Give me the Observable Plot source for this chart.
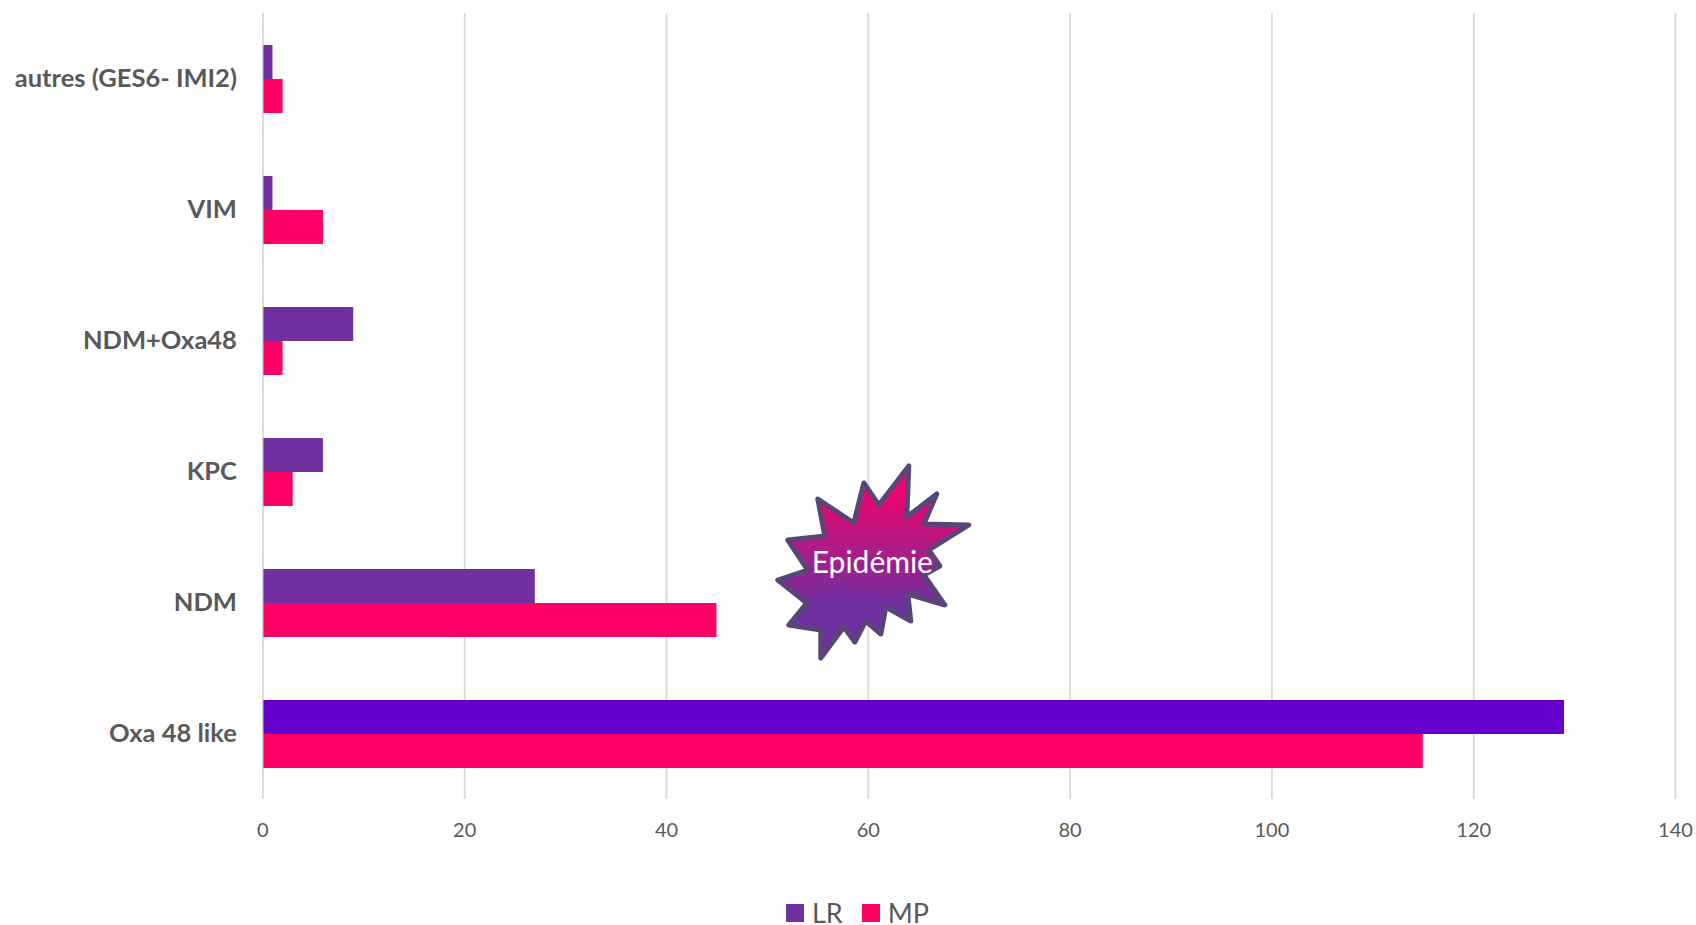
<!DOCTYPE html>
<html>
<head>
<meta charset="utf-8">
<script src="https://cdn.jsdelivr.net/npm/d3@7"></script>
<script src="https://cdn.jsdelivr.net/npm/@observablehq/plot@0.6"></script>
<style>
  html, body { margin: 0; padding: 0; background: #fff; overflow: hidden; }
  svg { display: block; }
  #legend { display: flex; align-items: center; height: 25px; padding-left: 786px; font: 27px Lato, sans-serif; color: #595959; }
  #legend i { display: block; width: 18px; height: 18px; margin-right: 8px; }
  #legend span { margin-right: 19px; line-height: 25px; }
</style>
</head>
<body>
<div id="chart"></div>
<script>
const categories = ["autres (GES6- IMI2)", "VIM", "NDM+Oxa48", "KPC", "NDM", "Oxa 48 like"];
const seriesNames = ["LR", "MP"];
const lrValues = [1, 1, 9, 6, 27, 129];
const mpValues = [2, 6, 2, 3, 45, 115];
const xTicks = [0, 20, 40, 60, 80, 100, 120, 140];
const seriesColors = ["#7030a0", "#ff0066"];
const highlightColor = "#6600cc";
const highlightCategory = "Oxa 48 like";
const annotationText = "Epidémie";
const annotationX = 60;
const annotationCategory = "NDM";
// starburst outline, offsets in px around its centre (decorative callout)
const burst = [[41,-97],[39,-46],[69,-69],[56,-39],[101,-38],[61,-13],[72,3],[56,12],[77,42],[40,31],[43,58],[18,44],[13,71],[-2,58],[-13,79],[-24,64],[-47,95],[-47,67],[-79,62],[-61,40],[-90,17],[-60,7],[-80,-23],[-43,-27],[-50,-64],[-14,-40],[-4,-80],[11,-58]];

const rows = categories.flatMap((category, i) => [
  {category, series: seriesNames[0], value: lrValues[i]},
  {category, series: seriesNames[1], value: mpValues[i]}
]);

function renderBurst(index, scales, values, dimensions, context, next) {
  const label = next(index, scales, values, dimensions, context);
  if (!index.length) return label;
  const cx = scales.x(annotationX), cy = scales.y(seriesNames[1]) - 40;
  const g = d3.create("svg:g");
  const grad = g.append("defs").append("linearGradient")
    .attr("id", "burstFill").attr("x1", 0).attr("y1", 0).attr("x2", 0).attr("y2", 1);
  grad.append("stop").attr("offset", "5%").attr("stop-color", "#ff0066");
  grad.append("stop").attr("offset", "72%").attr("stop-color", "#7030a0");
  grad.append("stop").attr("offset", "100%").attr("stop-color", "#7030a0");
  g.append("polygon")
    .attr("points", burst.map(([dx, dy]) => `${cx + dx},${cy + dy}`).join(" "))
    .attr("fill", "url(#burstFill)")
    .attr("stroke", "#5a4578")
    .attr("stroke-width", 5)
    .attr("stroke-linejoin", "round");
  g.node().append(label);
  return g.node();
}

const chart = Plot.plot({
  width: 1696,
  height: 900,
  marginLeft: 262.4,
  marginRight: 21,
  marginTop: 12,
  marginBottom: 100,
  style: {fontFamily: "Lato, sans-serif", color: "#595959", background: "#fff"},
  x: {domain: [0, 140], ticks: xTicks, label: null},
  y: {domain: seriesNames, paddingInner: 0, paddingOuter: 0.9, axis: null, label: null},
  fy: {domain: categories, padding: 0, label: null},
  marks: [
    Plot.ruleX(xTicks, {x: d => d, stroke: "#d9d9d9", strokeWidth: 1.8}),
    Plot.barX(rows, {
      x: "value",
      y: "series",
      fy: "category",
      insetLeft: 1,
      fill: d => d.category === highlightCategory && d.series === seriesNames[0]
        ? highlightColor
        : seriesColors[seriesNames.indexOf(d.series)]
    }),
    Plot.axisFy({anchor: "left", tickSize: 0, tickPadding: 26, fontSize: 25.5, fontWeight: "bold", fill: "#595959", label: null}),
    Plot.axisX({ticks: xTicks, tickSize: 0, tickPadding: 23, fontSize: 20, fill: "#595959", label: null}),
    Plot.text([annotationText], {
      x: () => annotationX,
      y: () => seriesNames[1],
      fy: () => annotationCategory,
      text: d => d,
      dx: 4,
      dy: -57,
      fontSize: 30,
      fill: "#fff",
      render: renderBurst
    })
  ]
});
document.getElementById("chart").append(chart);

const legend = d3.select("body").append("div").attr("id", "legend");
seriesNames.forEach((name, i) => {
  legend.append("i").style("background", seriesColors[i]);
  legend.append("span").text(name);
});
</script>
</body>
</html>
